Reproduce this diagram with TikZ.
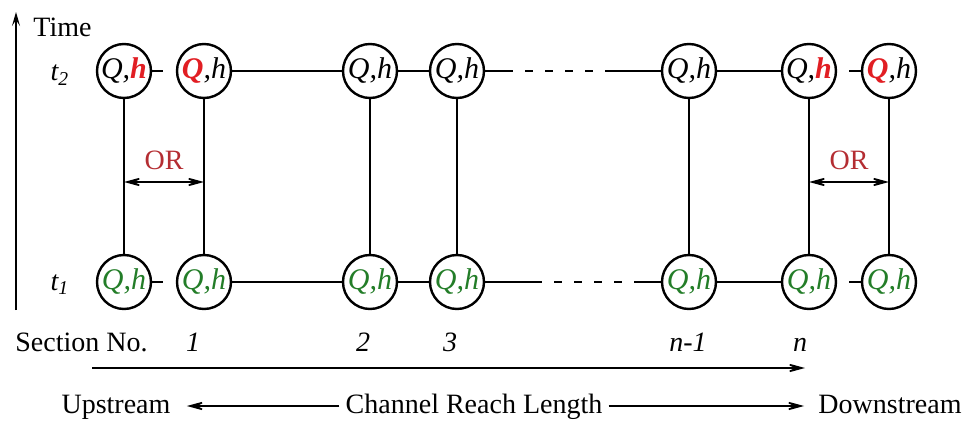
\documentclass[tikz,border=0pt]{standalone}
\usepackage{fontspec}
\setmainfont{Liberation Serif}
\usepackage{tikz}
\usetikzlibrary{arrows.meta}
\newcommand{\yh}{71}
\newcommand{\yb}{282}
\newcommand{\rouge}[1]{\textcolor{rougeqh}{\bfseries #1}}
\newcommand{\qh}[2]{\makebox[0pt]{\itshape #1,#2}}
\definecolor{rougeqh}{RGB}{225,30,35}
\definecolor{rougeor}{RGB}{180,45,50}
\definecolor{vertqh}{RGB}{35,125,40}
\tikzstyle{cercle}=[circle,draw,line width=1.2pt,minimum size=27pt,inner sep=0pt,font=\fontsize{15}{18}\selectfont]
\tikzstyle{trait}=[line width=1.1pt]
\tikzstyle{pointille}=[line width=1.1pt,dash pattern=on 4pt off 6pt,dash phase=4pt]
\tikzstyle{fleche}=[line width=0.8pt]
\tikzstyle{texte}=[inner sep=3pt,text height=10pt,text depth=3pt]

\begin{document}
\begin{tikzpicture}[x=0.5pt,y=-0.5pt,font=\fontsize{14}{17}\selectfont,>={Stealth[length=12pt,width=6.5pt,inset=7pt]}]
\useasboundingbox (0,0) rectangle (971,423);

% axe du temps
\coordinate (t0) at (16,310);
\coordinate (t9) at (16,12);
\draw[fleche,->,>={Stealth[length=7pt,width=4pt,inset=3pt]}] (t0) -- (t9);
\node[texte,anchor=west] (temps) at (27,30) {Time};
\node[texte] (t2) at (60,74) {\textit{t\textsubscript{2}}};
\node[texte] (t1) at (60,283) {\textit{t\textsubscript{1}}};

% ligne t1
\foreach \c/\x in {g/124,1/204,2/370,3/457,m/689,n/809,p/889}
\node[cercle,text=vertqh] (b\c) at (\x,\yb) {\qh{Q}{h}};

% ligne t2
\foreach \c/\x in {2/370,3/457,m/689}
\node[cercle] (h\c) at (\x,\yh) {\qh{Q}{h}};
\node[cercle] (hg) at (124,\yh) {\qh{Q}{\rouge{h}}};
\node[cercle] (h1) at (204,\yh) {\qh{\rouge{Q}}{h}};
\node[cercle] (hn) at (809,\yh) {\qh{Q}{\rouge{h}}};
\node[cercle] (hp) at (889,\yh) {\qh{\rouge{Q}}{h}};

\foreach \c in {g,1,2,3,m,n,p}
\draw[trait] (h\c) -- (b\c);

\coordinate (sgh) at (163,\yh);
\coordinate (sgb) at (163,\yb);
\coordinate (sph) at (849,\yh);
\coordinate (spb) at (849,\yb);
\coordinate (dha) at (513,\yh);
\coordinate (dhb) at (607,\yh);
\coordinate (dba) at (542,\yb);
\coordinate (dbb) at (638,\yb);

\draw[trait] (hg) -- (sgh);
\draw[trait] (bg) -- (sgb);
\draw[trait] (sph) -- (hp);
\draw[trait] (spb) -- (bp);
\draw[trait] (h1) -- (h2) -- (h3) -- (dha);
\draw[pointille] (dha) -- (dhb);
\draw[trait] (dhb) -- (hm) -- (hn);
\draw[trait] (b1) -- (b2) -- (b3) -- (dba);
\draw[pointille] (dba) -- (dbb);
\draw[trait] (dbb) -- (bm) -- (bn);

% OR
\node[texte,text=rougeor] (or1) at (164,162) {OR};
\node[texte,text=rougeor] (or2) at (849,162) {OR};
\coordinate (o1a) at (124,182);
\coordinate (o1b) at (204,182);
\coordinate (o2a) at (809,182);
\coordinate (o2b) at (889,182);
\draw[fleche,<->] (o1a) -- (o1b);
\draw[fleche,<->] (o2a) -- (o2b);

% sections
\node[texte,anchor=west] (sec) at (9,344) {Section No.};
\foreach \c/\s/\x in {1/1/193,2/2/363,3/3/450,m/n-1/688,n/n/800}
\node[texte] (num\c) at (\x,344) {\textit{\s}};

\coordinate (ax0) at (92,368);
\coordinate (ax9) at (805,368);
\draw[fleche,->] (ax0) -- (ax9);

\node[texte] (amont) at (116,406) {Upstream};
\node[texte] (bief) at (474,406) {Channel Reach Length};
\node[texte] (aval) at (890,406) {Downstream};
\draw[fleche,->,shorten >=5pt] (bief) -- (amont);
\draw[fleche,->,shorten >=4pt] (bief) -- (aval);

\end{tikzpicture}
\end{document}
